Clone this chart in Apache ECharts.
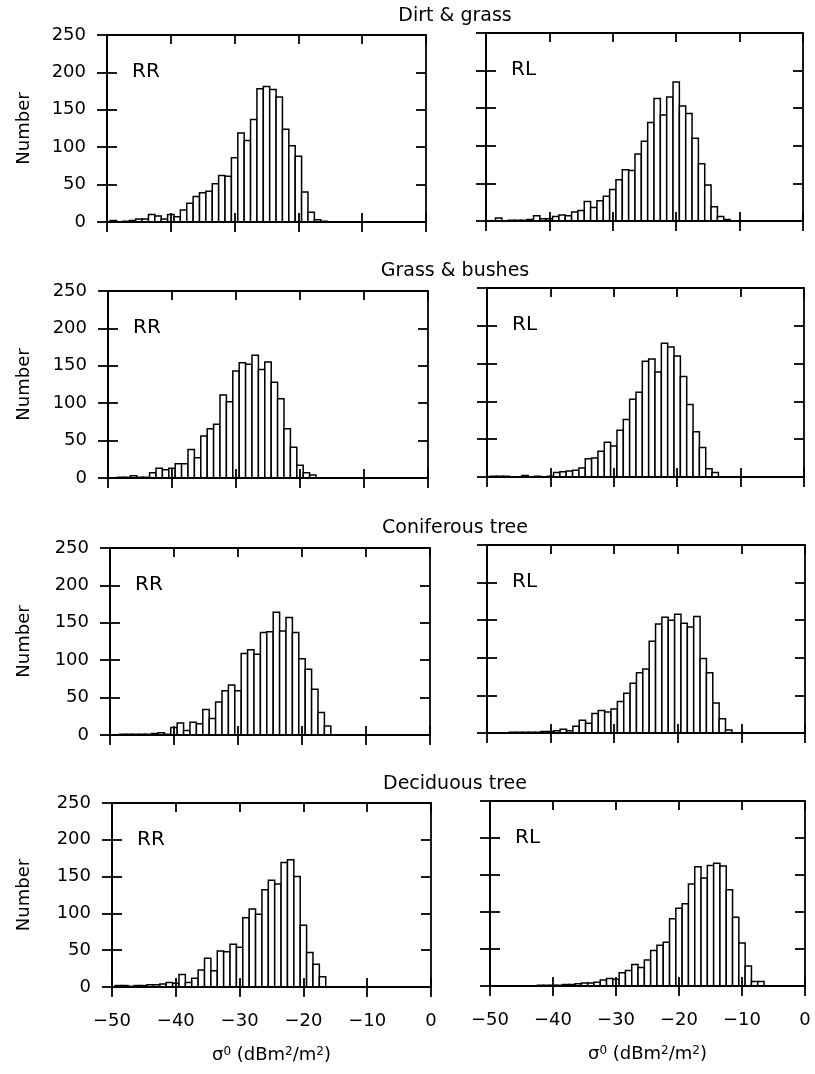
<!DOCTYPE html>
<html><head><meta charset="utf-8">
<script src="https://cdn.jsdelivr.net/npm/echarts@6/dist/echarts.min.js"></script>
<style>html,body{margin:0;padding:0;background:#fff}#c{width:815px;height:1074px}</style>
</head><body><div id="c"></div>
<script>
// bin centres (dB), 1 dB bins
const sigmaBins = [-50,-49,-48,-47,-46,-45,-44,-43,-42,-41,-40,-39,-38,-37,-36,-35,-34,-33,-32,-31,-30,-29,-28,-27,-26,-25,-24,-23,-22,-21,-20,-19,-18,-17,-16,-15,-14,-13,-12,-11,-10,-9,-8,-7,-6];
const BIN_WIDTH = 1;

const dirtRR  = [0,2,0,1,2,4,4,10,8,4,10,7,16,25,34,39,41,51,62,61,86,119,109,137,178,181,177,167,124,102,88,40,13,3,1,0,0,0,0,0,0,0,0,0,0];
const dirtRL  = [0,0,4,0,1,1,1,2,7,3,3,6,8,7,12,14,26,18,27,33,42,55,68,67,89,106,131,163,141,165,185,153,143,110,76,48,19,6,2,0,0,0,0,0,0];
const grassRR = [0,0,1,1,3,1,1,7,13,11,13,19,19,38,27,56,66,72,111,102,143,154,152,164,145,155,128,106,66,41,17,7,4,0,0,0,0,0,0,0,0,0,0,0,0];
const grassRL = [0,1,1,1,0,0,2,0,1,0,1,6,7,8,9,12,24,25,34,46,41,62,76,103,112,153,156,139,177,172,160,133,96,60,39,11,6,0,0,0,0,0,0,0,0];
const conRR   = [0,0,1,1,1,1,1,2,3,1,10,16,6,17,15,34,22,44,59,67,59,109,114,108,137,138,164,139,157,137,102,88,61,30,12,0,0,0,0,0,0,0,0,0,0];
const conRL   = [0,0,0,0,1,1,1,1,1,2,2,3,5,3,9,17,13,26,30,28,32,42,53,66,80,85,122,145,154,150,158,146,141,155,99,80,40,19,4,0,0,0,0,0,0];
const decRR   = [0,2,2,1,2,2,3,3,4,6,5,17,6,12,23,39,22,49,48,58,54,94,106,99,132,145,140,169,173,150,84,47,31,14,0,0,0,0,0,0,0,0,0,0,0];
const decRL   = [0,0,0,0,0,0,0,0,1,1,1,1,2,2,3,4,4,5,8,10,9,18,21,29,25,35,48,55,59,91,105,111,138,161,146,163,166,162,130,93,58,27,6,6,0];

const rowTitles = ['Dirt & grass', 'Grass & bushes', 'Coniferous tree', 'Deciduous tree'];
const polLabels = ['RR', 'RL'];
const panelData = [dirtRR, dirtRL, grassRR, grassRL, conRR, conRL, decRR, decRL];
const xMin = -50, xMax = 0, xStep = 10;
const yMin = 0, yMax = 250, yStep = 50;
const yName = 'Number';

// panel frames: [left, top, right, bottom] in px
const frames = [
  [107, 35, 426, 222], [486, 33, 803, 221],
  [108, 291, 428, 478], [487, 288, 804, 477],
  [110, 548, 430, 735], [487, 545, 805, 733],
  [112, 803, 431, 987], [490, 801, 805, 986]
];

const FONT = '"DejaVu Sans", "Liberation Sans", sans-serif';
const lineStyle = { color: '#000', width: 1.8 };
const minus = v => v < 0 ? '\u2212' + Math.abs(v) : String(v);

const grids = [], xAxes = [], yAxes = [], series = [], graphics = [];

frames.forEach((f, i) => {
  const row = Math.floor(i / 2), col = i % 2;
  grids.push({ left: f[0], top: f[1], width: f[2] - f[0], height: f[3] - f[1], outerBoundsMode: 'none', containLabel: false });
  const bottomRow = row === 3, leftCol = col === 0;
  const xBase = { type: 'value', gridIndex: i, min: xMin, max: xMax, interval: xStep, z: 5,
    axisLine: { show: true, onZero: false, lineStyle }, splitLine: { show: false } };
  xAxes.push(Object.assign({}, xBase, {
    position: 'bottom',
    axisTick: { show: true, inside: false, length: 10, lineStyle },
    axisLabel: { show: bottomRow, margin: 25, color: '#000', fontSize: 18, fontFamily: FONT, formatter: minus },
    name: bottomRow ? '\u03c3{sup|0} (dBm{sup|2}/m{sup|2})' : '',
    nameLocation: 'middle', nameGap: 59,
    nameTextStyle: { color: '#000', fontSize: 18, fontFamily: FONT,
      rich: { sup: { fontSize: 12, fontFamily: FONT, color: '#000', verticalAlign: 'top', lineHeight: 18 } } }
  }));
  xAxes.push(Object.assign({}, xBase, {
    position: 'bottom',
    axisTick: { show: true, inside: true, length: 9, lineStyle }, axisLabel: { show: false }
  }));
  xAxes.push(Object.assign({}, xBase, {
    position: 'top',
    axisTick: { show: true, inside: true, length: 9, lineStyle }, axisLabel: { show: false }
  }));
  const yBase = { type: 'value', gridIndex: i, min: yMin, max: yMax, interval: yStep, z: 5,
    axisLine: { show: true, onZero: false, lineStyle }, splitLine: { show: false } };
  yAxes.push(Object.assign({}, yBase, {
    position: 'left',
    axisTick: { show: true, inside: false, length: 10, lineStyle },
    axisLabel: { show: leftCol, margin: 21, color: '#000', fontSize: 18, fontFamily: FONT },
    name: leftCol ? yName : '', nameLocation: 'middle', nameGap: f[0] - 33, nameRotate: 90,
    nameTextStyle: { color: '#000', fontSize: 18, fontFamily: FONT }
  }));
  yAxes.push(Object.assign({}, yBase, {
    position: 'left',
    axisTick: { show: true, inside: true, length: 10, lineStyle }, axisLabel: { show: false }
  }));
  yAxes.push(Object.assign({}, yBase, {
    position: 'right',
    axisTick: { show: true, inside: true, length: 10, lineStyle }, axisLabel: { show: false }
  }));

  series.push({
    type: 'custom',
    xAxisIndex: i * 3, yAxisIndex: i * 3,
    clip: true,
    data: sigmaBins.map((b, k) => [b, panelData[i][k]]),
    renderItem: (params, api) => {
      const v = api.value(1);
      if (!v) return null;
      const c = api.value(0);
      const tl = api.coord([c - BIN_WIDTH / 2, v]);
      const br = api.coord([c + BIN_WIDTH / 2, 0]);
      return { type: 'rect',
        shape: { x: tl[0], y: tl[1], width: br[0] - tl[0], height: br[1] - tl[1] },
        style: { fill: '#fff', stroke: '#000', lineWidth: 1.5 } };
    }
  });

  graphics.push({ type: 'text', x: f[0] + 25, y: f[1] + 37, z: 10,
    style: { text: polLabels[col], fill: '#000', font: '20px ' + FONT, align: 'left', verticalAlign: 'middle' } });
});

rowTitles.forEach((t, r) => {
  const top = Math.min(frames[r * 2][1], frames[r * 2 + 1][1]);
  graphics.push({ type: 'text', x: 455, y: top - 17, z: 10,
    style: { text: t, fill: '#000', font: '19px ' + FONT, align: 'center', verticalAlign: 'middle' } });
});

const chart = echarts.init(document.getElementById('c'), null, { renderer: 'canvas' });
chart.setOption({
  backgroundColor: '#fff',
  animation: false,
  grid: grids,
  xAxis: xAxes,
  yAxis: yAxes,
  series: series,
  graphic: graphics
});
</script>
</body></html>
